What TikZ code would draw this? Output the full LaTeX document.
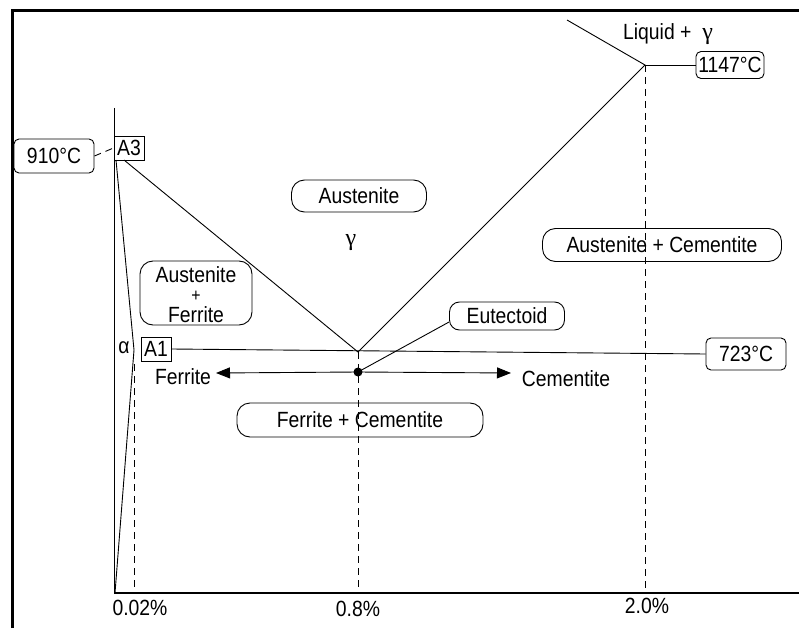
\documentclass[tikz,border=0pt]{standalone}
\usepackage{fontspec}
\setmainfont{Liberation Sans}[FakeStretch=0.88]
\newfontfamily\serifgreek{Liberation Serif}
\usetikzlibrary{arrows.meta,calc}
\begin{document}
\begin{tikzpicture}[x=1pt,y=-1pt,
  every node/.style={font=\fontsize{22}{19}\selectfont, inner sep=0pt},
  thinline/.style={line width=0.9pt, black},
  dashline/.style={line width=0.9pt, black, dash pattern=on 7pt off 5pt},
  tempbox/.style={draw, line width=0.9pt, rounded corners=5pt, minimum height=#1},
  pill/.style={draw, line width=0.9pt, rounded corners=13pt},
  sqbox/.style={draw, line width=0.9pt, minimum width=30pt, minimum height=24pt},
]
\useasboundingbox (0,0) rectangle (799,628);
% frame
\draw[line width=3pt] (12,628) -- (12,11) -- (799,11);
% coordinates
\coordinate (axtop) at (114,108);
\coordinate (orig) at (114,593);
\coordinate (axend) at (799,593);
\coordinate (a3p) at (116,160);
\coordinate (a3d) at (124,160);
\coordinate (solv) at (134,350);
\coordinate (solvb) at (115,593);
\coordinate (E) at (358,352);
\coordinate (D) at (358,372);
\coordinate (P) at (645,65);
\coordinate (liqs) at (567,20);
\coordinate (x02t) at (134,364);
\coordinate (x02b) at (134,593);
\coordinate (x8b) at (358,593);
\coordinate (x20b) at (645,593);
% axes
\draw[line width=0.9pt] (axtop) -- (orig);
\draw[line width=1.6pt] (orig) -- (axend);
% nodes
\node[sqbox] (A3) at (129,148) {A3};
\node[tempbox=34pt, minimum width=80pt] (t910) at (54,156) {910°C};
\node[sqbox] (A1) at (156,349) {A1};
\node (alpha) at (124,348) {α};
\node[tempbox=32pt, minimum width=80pt] (t723) at (746,354) {723°C};
\node[tempbox=27pt, minimum width=68pt] (t1147) at (730,65) {1147°C};
\node (liq) at (668,34) {Liquid + \ {\serifgreek\fontsize{24}{24}\selectfont γ}};
\node[pill, minimum width=135pt, minimum height=32pt] (aus) at (359,196) {Austenite};
\node (gam) at (351,243) {\serifgreek\fontsize{24}{24}\selectfont γ};
\node[pill, minimum width=112pt, minimum height=64pt] (af) at (196,293) {};
\node (afA) at (196,275) {Austenite};
\node[font=\fontsize{18}{18}\selectfont] (afP) at (196,296) {+};
\node (afF) at (196,315) {Ferrite};
\node[pill, minimum width=239pt, minimum height=33pt] (ac) at (662,245) {Austenite + Cementite};
\node[pill, minimum width=246pt, minimum height=34pt] (fc) at (360,420) {Ferrite + Cementite};
\node[pill, rounded corners=10pt, minimum width=115pt, minimum height=28pt] (eut) at (507,316) {Eutectoid};
\node (fer) at (183,377) {Ferrite};
\node (cem) at (566,379) {Cementite};
\node (l002) at (140,608) {0.02\%};
\node (l08) at (358,609) {0.8\%};
\node (l20) at (647,606) {2.0\%};
\coordinate (arL) at (216,373);
\coordinate (arR) at (511,373);
% phase lines
\draw[thinline] (a3p) -- (solv) -- (solvb);
\draw[thinline] (a3d) -- (E) -- (P) -- (liqs);
\draw[thinline] (P) -- (t1147.west);
\draw[thinline] (A1.east) -- (t723.west);
\draw[dashline] (t910.east) -- (A3.west);
% dashed verticals
\draw[dashline] (x02t) -- (x02b);
\draw[dashline] (E) -- (x8b);
\draw[dashline] (P) -- (x20b);
% arrows
\draw[thinline, -{Triangle[length=14pt,width=11pt]}] (D) -- (arL);
\draw[thinline, -{Triangle[length=14pt,width=11pt]}] (D) -- (arR);
\fill (D) circle (4.5pt);
\draw[thinline] (D) -- ([yshift=-6pt]eut.west);
\end{tikzpicture}
\end{document}
